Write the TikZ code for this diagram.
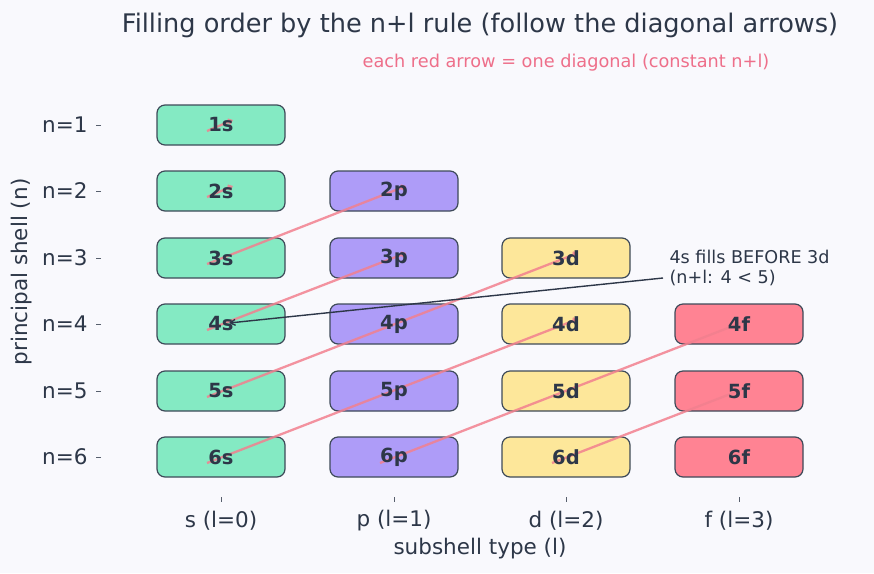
\documentclass[tikz,border=0pt]{standalone}
\usepackage{fontspec}
\setmainfont{DejaVu Sans}
\usetikzlibrary{arrows.meta,calc}
\definecolor{bgc}{HTML}{F9F9FD}
\definecolor{sc}{HTML}{84EAC3}
\definecolor{pc}{HTML}{AE9CF8}
\definecolor{dc}{HTML}{FDE79A}
\definecolor{fc}{HTML}{FF8393}
\definecolor{edgec}{HTML}{3E4A59}
\definecolor{txt}{HTML}{2D3748}
\definecolor{redc}{HTML}{F2808F}
\definecolor{subc}{HTML}{EE6F8A}
\tikzset{
  cell/.style={draw=edgec, line width=1.2pt, rounded corners=8pt, minimum width=128pt, minimum height=40pt, inner sep=0pt},
  lab/.style={font=\fontsize{19.5}{22}\selectfont\bfseries, text=txt, inner sep=0pt},
  diag/.style={draw=redc, opacity=0.85, line width=2.3pt, -{Straight Barb[length=3pt,width=5pt]}},
  tick/.style={draw=txt!80, line width=0.8pt},
  ticklab/.style={font=\fontsize{21.5}{24}\selectfont, text=txt},
  note/.style={draw=txt, line width=1.4pt, -{Straight Barb[length=5pt,width=6pt]}}
}
\begin{document}
\begin{tikzpicture}[x=1pt,y=-1pt]
\fill[bgc] (0,0) rectangle (874,573);
\useasboundingbox (0,0) rectangle (874,573);
% title
\node[font=\fontsize{25.6}{30}\selectfont, text=txt] (title) at (480,25) {Filling order by the n+l rule (follow the diagonal arrows)};
\node[font=\fontsize{17.7}{20}\selectfont, text=subc] (sub) at (566,63) {each red arrow = one diagonal (constant n+l)};
% boxes
\foreach \n/\y in {1/125,2/191,3/258,4/324,5/391,6/457}{
  \node[cell, fill=sc] (b\n s) at (221,\y) {};
}
\foreach \n/\y in {2/191,3/258,4/324,5/391,6/457}{
  \node[cell, fill=pc] (b\n p) at (394,\y) {};
}
\foreach \n/\y in {3/258,4/324,5/391,6/457}{
  \node[cell, fill=dc] (b\n d) at (566,\y) {};
}
\foreach \n/\y in {4/324,5/391,6/457}{
  \node[cell, fill=fc] (b\n f) at (739,\y) {};
}
% diagonals
\foreach \a/\b in {1s/1s,2s/2s,3s/2p,4s/3p,5s/3d,6s/4d,6p/4f,6d/5f}{
  \draw[diag] ($(b\a.center)+(-14,6)$) -- ($(b\b.center)+(12,-5)$);
}
% annotation
\node[anchor=west, align=left, font=\fontsize{17.6}{20}\selectfont, text=txt] (note) at (666,268) {4s fills BEFORE 3d\\(n+l: 4 {<} 5)};
\coordinate (nstart) at (663,278);
\draw[note] (nstart) -- ($(b4s.center)+(8,-1)$);
% labels
\foreach \c in {1s,2s,3s,4s,5s,6s,2p,3p,4p,5p,6p,3d,4d,5d,6d,4f,5f,6f}{
  \node[lab] (t\c) at (b\c.center) {\c};
}
% y axis ticks
\foreach \n/\y in {1/125,2/191,3/258,4/324,5/391,6/457}{
  \coordinate (yt\n) at (101,\y);
  \draw[tick] (yt\n) -- ++(-5,0);
  \node[ticklab, anchor=east] (yl\n) at (91,\y) {n=\n};
}
% x axis ticks
\foreach \x/\s/\l in {221/s/0,394/p/1,566/d/2,739/f/3}{
  \coordinate (xt\s) at (\x,497);
  \draw[tick] (xt\s) -- ++(0,5);
  \node[ticklab] (xl\s) at (\x,521) {\s{} (l=\l)};
}
\node[ticklab] (xlabel) at (480,549) {subshell type (l)};
\node[ticklab, rotate=90] (ylabel) at (22,272) {principal shell (n)};
\end{tikzpicture}
\end{document}
